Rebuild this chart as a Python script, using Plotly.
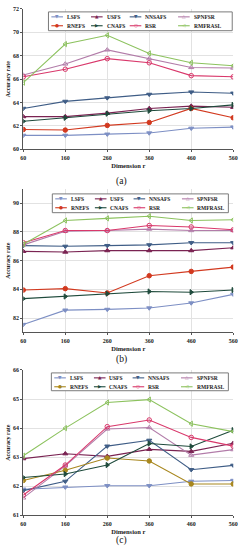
import plotly.graph_objects as go
from plotly.subplots import make_subplots

dims = [60, 160, 260, 360, 460, 560]
methods = ["LSFS", "USFS", "NNSAFS", "SPNFSR", "RNEFS", "CNAFS", "RSR", "RMFRASL"]

# (a)
a_LSFS = [61.2, 61.2, 61.3, 61.4, 61.8, 61.9]
a_USFS = [62.8, 62.8, 63.1, 63.5, 63.7, 63.6]
a_NNSAFS = [63.5, 64.1, 64.4, 64.7, 64.9, 64.8]
a_SPNFSR = [66.35, 67.3, 68.5, 67.75, 67.0, 66.95]
a_RNEFS = [61.7, 61.65, 62.05, 62.3, 63.5, 62.7]
a_CNAFS = [62.4, 62.7, 63.05, 63.3, 63.5, 63.8]
a_RSR = [66.2, 66.85, 67.75, 67.4, 66.3, 66.2]
a_RMFRASL = [65.7, 69.0, 69.75, 68.2, 67.4, 67.15]

# (b)
b_LSFS = [81.55, 82.55, 82.6, 82.7, 83.05, 83.65]
b_USFS = [86.65, 86.6, 86.7, 86.7, 86.7, 86.9]
b_NNSAFS = [87.05, 87.0, 87.05, 87.1, 87.25, 87.25]
b_SPNFSR = [87.1, 88.05, 88.1, 88.2, 88.1, 88.1]
b_RNEFS = [83.95, 84.05, 83.75, 84.95, 85.25, 85.55]
b_CNAFS = [83.35, 83.5, 83.7, 83.85, 83.8, 83.95]
b_RSR = [87.25, 88.1, 88.1, 88.45, 88.35, 88.15]
b_RMFRASL = [87.15, 88.8, 88.95, 89.1, 88.8, 88.85]

# (c)
c_LSFS = [61.9, 61.97, 62.02, 62.02, 62.17, 62.2]
c_USFS = [62.95, 63.12, 63.03, 63.27, 63.2, 63.48]
c_NNSAFS = [61.85, 62.17, 63.38, 63.58, 62.57, 62.72]
c_SPNFSR = [61.6, 62.7, 63.97, 64.02, 63.07, 63.26]
c_RNEFS = [62.2, 62.55, 62.97, 62.87, 62.08, 62.08]
c_CNAFS = [62.3, 62.42, 62.73, 63.47, 63.37, 63.93]
c_RSR = [61.7, 62.73, 64.05, 64.28, 63.68, 63.38]
c_RMFRASL = [63.05, 64.0, 64.88, 64.98, 64.15, 63.88]

y_ranges = [[60, 72], [81, 91], [61, 66]]
y_dticks = [2, 2, 1]
panel_labels = ["(a)", "(b)", "(c)"]
x_title = "Dimension r"
y_title = "Accuracy rate"

colors = {
    "LSFS": "#7d8fc4",
    "USFS": "#7a2352",
    "NNSAFS": "#3f5d86",
    "SPNFSR": "#b27ca9",
    "RNEFS": "#d2391f",
    "CNAFS": "#1e4a3b",
    "RSR": "#d9386b",
    "RMFRASL": "#8cc25e",
}
rnefs_c_color = "#a8871e"
symbols = {
    "LSFS": "triangle-down",
    "USFS": "triangle-up",
    "NNSAFS": "triangle-down",
    "SPNFSR": "triangle-up-open",
    "RNEFS": "circle",
    "CNAFS": "triangle-right",
    "RSR": "circle-open",
    "RMFRASL": "triangle-left-open",
}
glyphs = {
    "LSFS": "▼", "USFS": "▲", "NNSAFS": "▼", "SPNFSR": "△",
    "RNEFS": "●", "CNAFS": "▶", "RSR": "○", "RMFRASL": "◁",
}

panels = [
    [a_LSFS, a_USFS, a_NNSAFS, a_SPNFSR, a_RNEFS, a_CNAFS, a_RSR, a_RMFRASL],
    [b_LSFS, b_USFS, b_NNSAFS, b_SPNFSR, b_RNEFS, b_CNAFS, b_RSR, b_RMFRASL],
    [c_LSFS, c_USFS, c_NNSAFS, c_SPNFSR, c_RNEFS, c_CNAFS, c_RSR, c_RMFRASL],
]

W, H = 244, 550
FONT = "Liberation Serif"

fig = make_subplots(rows=3, cols=1)

def color_of(p, name):
    if p == 2 and name == "RNEFS":
        return rnefs_c_color
    return colors[name]

for p, series in enumerate(panels):
    for name, vals in zip(methods, series):
        col = color_of(p, name)
        fig.add_trace(
            go.Scatter(
                x=dims, y=vals, name=name, mode="lines+markers",
                line=dict(color=col, width=1.1),
                marker=dict(symbol=symbols[name], size=4.5, color=col,
                            line=dict(color=col, width=1)),
                showlegend=False,
            ),
            row=p + 1, col=1,
        )

# pixel-based geometry
def py(px):
    return 1 - px / H

def pxx(px):
    return px / W

x_dom = [21 / W, 238 / W]
y_doms = [[py(148), py(6)], [py(333), py(188)], [py(518), py(371)]]
legend_boxes = [(47, 9, 237, 28), (51, 193, 233, 212), (50, 374, 233, 392)]
label_ys = [180, 360, 543]

axis_font = dict(family=FONT, size=6, color="#222222", weight="bold")
for i in range(3):
    xa = "xaxis" if i == 0 else f"xaxis{i+1}"
    ya = "yaxis" if i == 0 else f"yaxis{i+1}"
    fig.layout[xa].update(
        domain=x_dom, range=[60, 560], tickvals=dims, ticktext=[str(d) for d in dims],
        showgrid=True, gridcolor="#e2e2e2", gridwidth=1,
        showline=True, linecolor="#555555", linewidth=1,
        ticks="outside", ticklen=2, tickcolor="#555555",
        tickfont=axis_font, zeroline=False, ticklabeloverflow="allow",
        title=dict(text=x_title, font=dict(family=FONT, size=6.5, color="#222222", weight="bold"), standoff=3),
    )
    fig.layout[ya].update(
        domain=y_doms[i], range=y_ranges[i], dtick=y_dticks[i],
        showgrid=True, gridcolor="#e2e2e2", gridwidth=1,
        showline=True, linecolor="#555555", linewidth=1,
        ticks="outside", ticklen=2, tickcolor="#555555",
        tickfont=axis_font, zeroline=False, ticklabeloverflow="allow",
        title=dict(text=y_title, font=dict(family=FONT, size=6, color="#222222", weight="bold"), standoff=2),
    )
    fig.add_annotation(
        text=panel_labels[i], xref="paper", yref="paper",
        x=0.5, y=py(label_ys[i]), xanchor="center", yanchor="middle",
        showarrow=False, font=dict(family=FONT, size=9.5, color="#111111"),
    )

    # hand-drawn legend box (two rows of four entries)
    x0, y0, x1, y1 = legend_boxes[i]
    fig.add_shape(type="rect", xref="paper", yref="paper",
                  x0=pxx(x0), x1=pxx(x1), y0=py(y1), y1=py(y0),
                  line=dict(color="#7a7a7a", width=1), fillcolor="white", layer="above")
    col_offsets = [3, 44, 84, 134]
    row_ys = [y0 + 5, y0 + 14]
    for k, name in enumerate(methods):
        r, c = divmod(k, 4)
        col = color_of(i, name)
        lx = x0 + col_offsets[c]
        ly = row_ys[r]
        fig.add_shape(type="line", xref="paper", yref="paper",
                      x0=pxx(lx), x1=pxx(lx + 12), y0=py(ly), y1=py(ly),
                      line=dict(color=col, width=1.1), layer="above")
        fig.add_annotation(text=glyphs[name], xref="paper", yref="paper",
                           x=pxx(lx + 6), y=py(ly), xanchor="center", yanchor="middle",
                           showarrow=False, font=dict(family="DejaVu Sans", size=4.5, color=col))
        fig.add_annotation(text=name, xref="paper", yref="paper",
                           x=pxx(lx + 14), y=py(ly), xanchor="left", yanchor="middle",
                           showarrow=False,
                           font=dict(family=FONT, size=5.5, color="#222222", weight="bold"))

fig.update_layout(
    width=W, height=H,
    margin=dict(l=0, r=0, t=0, b=0),
    paper_bgcolor="white", plot_bgcolor="white",
    showlegend=False,
)

fig.write_html("out.html", config={"displayModeBar": False},
               post_script="document.body.style.margin='0';document.body.style.overflow='hidden';")
